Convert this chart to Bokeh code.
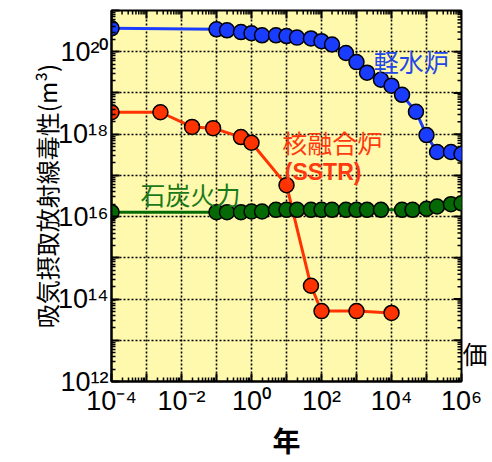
import math
from bokeh.plotting import figure
from bokeh.models import Range1d, FixedTicker, LogAxis
from bokeh.core.properties import value
from bokeh.embed import file_html
from bokeh.resources import INLINE

# ---------------- data ----------------
lwr_years = [1e-4, 0.1, 0.2, 0.5, 1, 2, 5, 10, 20, 50, 100, 200, 500, 1e3, 2e3, 5e3,
             1e4, 2e4, 5e4, 1e5, 2e5, 5e5, 1e6]
lwr_tox = [3.7e20, 3.5e20, 3.3e20, 3.0e20, 2.8e20, 2.5e20, 2.5e20, 2.4e20, 2.2e20, 2.1e20,
           1.8e20, 1.5e20, 9.3e19, 5.6e19, 3.1e19, 2.1e19, 1.5e19, 9.0e18, 3.5e18, 9.5e17,
           3.7e17, 3.7e17, 3.3e17]

fusion_years = [1e-4, 2.5e-3, 0.02, 0.08, 0.5, 1, 10, 50, 100, 1e3, 1e4]
fusion_tox = [3.4e18, 3.4e18, 1.5e18, 1.4e18, 8.5e17, 6.2e17, 5.8e16, 2.1e14, 5.1e13,
              5.1e13, 4.6e13]

coal_years = [1e-4, 0.1, 0.2, 0.5, 1, 2, 5, 10, 20, 50, 100, 200, 500, 1e3, 2e3, 5e3,
              2e4, 4e4, 1e5, 2e5, 5e5, 1e6]
coal_tox = [1.28e16, 1.28e16, 1.28e16, 1.28e16, 1.33e16, 1.33e16, 1.46e16, 1.46e16,
            1.46e16, 1.46e16, 1.46e16, 1.46e16, 1.46e16, 1.46e16, 1.46e16, 1.46e16,
            1.46e16, 1.46e16, 1.55e16, 1.76e16, 2.0e16, 2.1e16]

x_exponents = list(range(-4, 7))      # decades on x axis
y_exponents = list(range(12, 22))     # decades on y axis
x_label_exps = [-4, -2, 0, 2, 4, 6]
y_label_exps = [12, 14, 16, 18, 20]

series_names = ["軽水炉", "核融合炉", "(SSTR)", "石炭火力"]
y_title = "吸気摂取放射線毒性(m³)"
x_title = "年"
extra_text = "価"
extra_text_at = 5e12

BLUE = "#1A3CFF"
RED = "#FF3300"
GREEN = "#056A05"
NUM_FONT = "Liberation Sans"
CJK_FONT = "Noto Sans CJK JP"

SUP = str.maketrans("0123456789-", "⁰¹²³⁴⁵⁶⁷⁸⁹⁻")


def pow_label(e):
    return "10" + str(e).translate(SUP)


x_lo, x_hi = 10.0 ** x_exponents[0], 10.0 ** x_exponents[-1]
y_lo, y_hi = 10.0 ** y_exponents[0], 10.0 ** y_exponents[-1]

p = figure(x_axis_type="log", y_axis_type="log",
           x_range=Range1d(x_lo, x_hi), y_range=Range1d(y_lo, y_hi),
           width=490, height=462,
           min_border_left=111, min_border_right=29, min_border_top=10, min_border_bottom=77,
           output_backend="svg", toolbar_location=None)

p.background_fill_color = "#FFF9AE"
p.border_fill_color = "white"
p.outline_line_color = "black"
p.outline_line_width = 2

x_major = [10.0 ** e for e in x_exponents]
x_minor = [m * 10.0 ** e for e in x_exponents[:-1] for m in range(2, 10)]
y_major = [10.0 ** e for e in y_exponents]
y_minor = [m * 10.0 ** e for e in y_exponents[:-1] for m in range(2, 10)]
xt = FixedTicker(ticks=x_major, minor_ticks=x_minor)
yt = FixedTicker(ticks=y_major, minor_ticks=y_minor)

for ax, t, exps, lab_exps in ((p.xaxis[0], xt, x_exponents, x_label_exps),
                              (p.yaxis[0], yt, y_exponents, y_label_exps)):
    ax.ticker = t
    ax.major_tick_in = 8
    ax.major_tick_out = 0
    ax.minor_tick_in = 4
    ax.minor_tick_out = 0
    ax.major_tick_line_width = 2
    ax.minor_tick_line_width = 1.5
    ax.axis_line_width = 2
    ax.major_label_overrides = {10.0 ** e: (pow_label(e) if e in lab_exps else "")
                                for e in exps}
    ax.major_label_text_font = NUM_FONT
    ax.major_label_text_font_size = "27px"
    ax.major_label_text_color = "black"
    ax.axis_label_text_color = "black"

p.xaxis.major_label_standoff = 4
p.yaxis.major_label_standoff = 3
p.yaxis.axis_label = y_title
p.yaxis.axis_label_text_font = CJK_FONT
p.yaxis.axis_label_text_font_size = "24px"
p.yaxis.axis_label_text_font_style = "normal"
p.yaxis.axis_label_standoff = -9
p.xaxis.axis_label = x_title
p.xaxis.axis_label_text_font = CJK_FONT
p.xaxis.axis_label_text_font_size = "28px"
p.xaxis.axis_label_text_font_style = "bold"
p.xaxis.axis_label_standoff = 1

# right-hand axis carrying the stray character
rax = LogAxis(ticker=FixedTicker(ticks=[extra_text_at], minor_ticks=[]),
              major_label_overrides={extra_text_at: extra_text},
              major_tick_in=0, major_tick_out=0, axis_line_color=None,
              major_label_standoff=1, major_label_text_font=CJK_FONT,
              major_label_text_font_size="25px", major_label_text_color="black")
p.add_layout(rax, "right")

for g, t in ((p.xgrid, xt), (p.ygrid, yt)):
    g.ticker = t
    g.grid_line_color = "black"
    g.grid_line_dash = "2 2"
    g.grid_line_width = 1.6

# mirrored ticks on the top and right edges (half of each dash lies inside the frame)
p.scatter(x_major, [y_hi] * len(x_major), marker="dash", angle=math.pi / 2, size=16,
          line_color="black", line_width=2)
p.scatter(x_minor, [y_hi] * len(x_minor), marker="dash", angle=math.pi / 2, size=8,
          line_color="black", line_width=1.5)
p.scatter([x_hi] * len(y_major), y_major, marker="dash", size=16,
          line_color="black", line_width=2)
p.scatter([x_hi] * len(y_minor), y_minor, marker="dash", size=8,
          line_color="black", line_width=1.5)

# series
for xs, ys, col in ((lwr_years, lwr_tox, BLUE), (fusion_years, fusion_tox, RED),
                    (coal_years, coal_tox, GREEN)):
    p.line(xs, ys, line_color=col, line_width=3)
    p.scatter(xs, ys, size=15, fill_color=col, line_color="black", line_width=1.5)

# in-plot labels
p.text(x=[10 ** 3.49], y=[10 ** 19.78], text=[series_names[0]], text_color="#2347E6",
       text_font=value(CJK_FONT), text_font_size="25px", text_baseline="middle")
p.text(x=[10 ** 0.88], y=[10 ** 17.80], text=[series_names[1]], text_color="#FF3A10",
       text_font=value(CJK_FONT), text_font_size="25px", text_baseline="middle")
p.text(x=[10 ** 0.95], y=[10 ** 17.08], text=[series_names[2]], text_color="#FF3A10",
       text_font=value(NUM_FONT), text_font_style="bold", text_font_size="23px",
       text_baseline="middle")
p.text(x=[10 ** -3.17], y=[10 ** 16.56], text=[series_names[3]], text_color="#1A7A1A",
       text_font=value(CJK_FONT), text_font_size="25px", text_baseline="middle")

open("out.html", "w").write(file_html(p, INLINE))
